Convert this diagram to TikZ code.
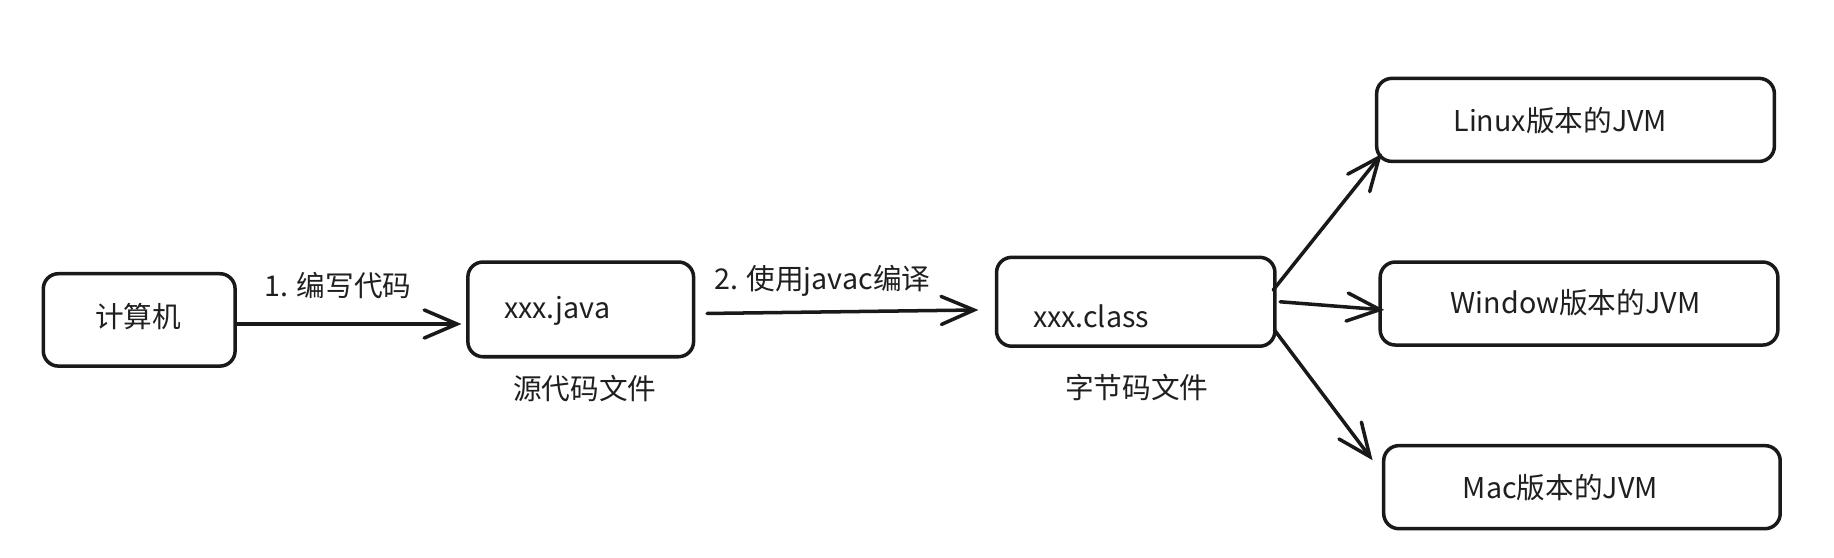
\documentclass[tikz,border=0pt]{standalone}
\usepackage{fontspec}
\setmainfont{Noto Sans CJK SC}
\usetikzlibrary{arrows.meta}
\tikzset{
  box/.style={draw=black!90, line width=3pt, rounded corners=13pt, inner sep=0pt, fill=white},
  txt/.style={font=\fontsize{24.5}{28}\selectfont, text=black!88, inner sep=0pt},
  arr/.style={draw=black!90, line width=3pt, line cap=round, -{Straight Barb[length=28pt,width=24pt,line width=3pt,line cap=round]}}
}
\begin{document}
\begin{tikzpicture}[x=1pt,y=-1pt]
\useasboundingbox[fill=white] (0,0) rectangle (1568,477);
% boxes
\node[box, minimum width=164pt, minimum height=79pt] (pc) at (119,273.5) {};
\node[box, minimum width=193pt, minimum height=81pt] (java) at (496.5,264.5) {};
\node[box, minimum width=238pt, minimum height=76pt] (cls) at (971,258) {};
\node[box, minimum width=340pt, minimum height=71pt] (linux) at (1347,102.5) {};
\node[box, minimum width=340pt, minimum height=71pt] (win) at (1350,259.5) {};
\node[box, minimum width=339pt, minimum height=71pt] (mac) at (1352.5,416.5) {};
% texts
\node[txt] (tpc) at (118,271) {计算机};
\node[txt, anchor=west] (tjava) at (431,266) {xxx.java};
\node[txt, anchor=west] (tcls) at (883,270) {xxx.class};
\node[txt] (tlinux) at (1334,103) {Linux版本的JVM};
\node[txt] (twin) at (1347,259) {Window版本的JVM};
\node[txt] (tmac) at (1334,417) {Mac版本的JVM};
\node[txt] (l1) at (289,244) {1. 编写代码};
\node[txt] (l2) at (703,240) {2. 使用javac编译};
\node[txt] (src) at (500,332) {源代码文件};
\node[txt] (byte) at (972,331) {字节码文件};
% arrows
\draw[arr] ([yshift=-3.5pt]pc.east) -- ([xshift=-4pt,yshift=-12.5pt]java.west);
\draw[arr] ([xshift=10pt,yshift=-3.5pt]java.east) -- ([xshift=-14pt,yshift=-7pt]cls.west);
\draw[arr] ([xshift=-3pt,yshift=10pt]cls.east) -- ([xshift=6pt,yshift=8pt]linux.south west);
\draw[arr] ([xshift=3pt]cls.east) -- ([xshift=5pt,yshift=-5.5pt]win.west);
\draw[arr] ([xshift=-2pt,yshift=-24pt]cls.east) -- ([xshift=-8pt,yshift=-14pt]mac.north west);
\end{tikzpicture}
\end{document}
